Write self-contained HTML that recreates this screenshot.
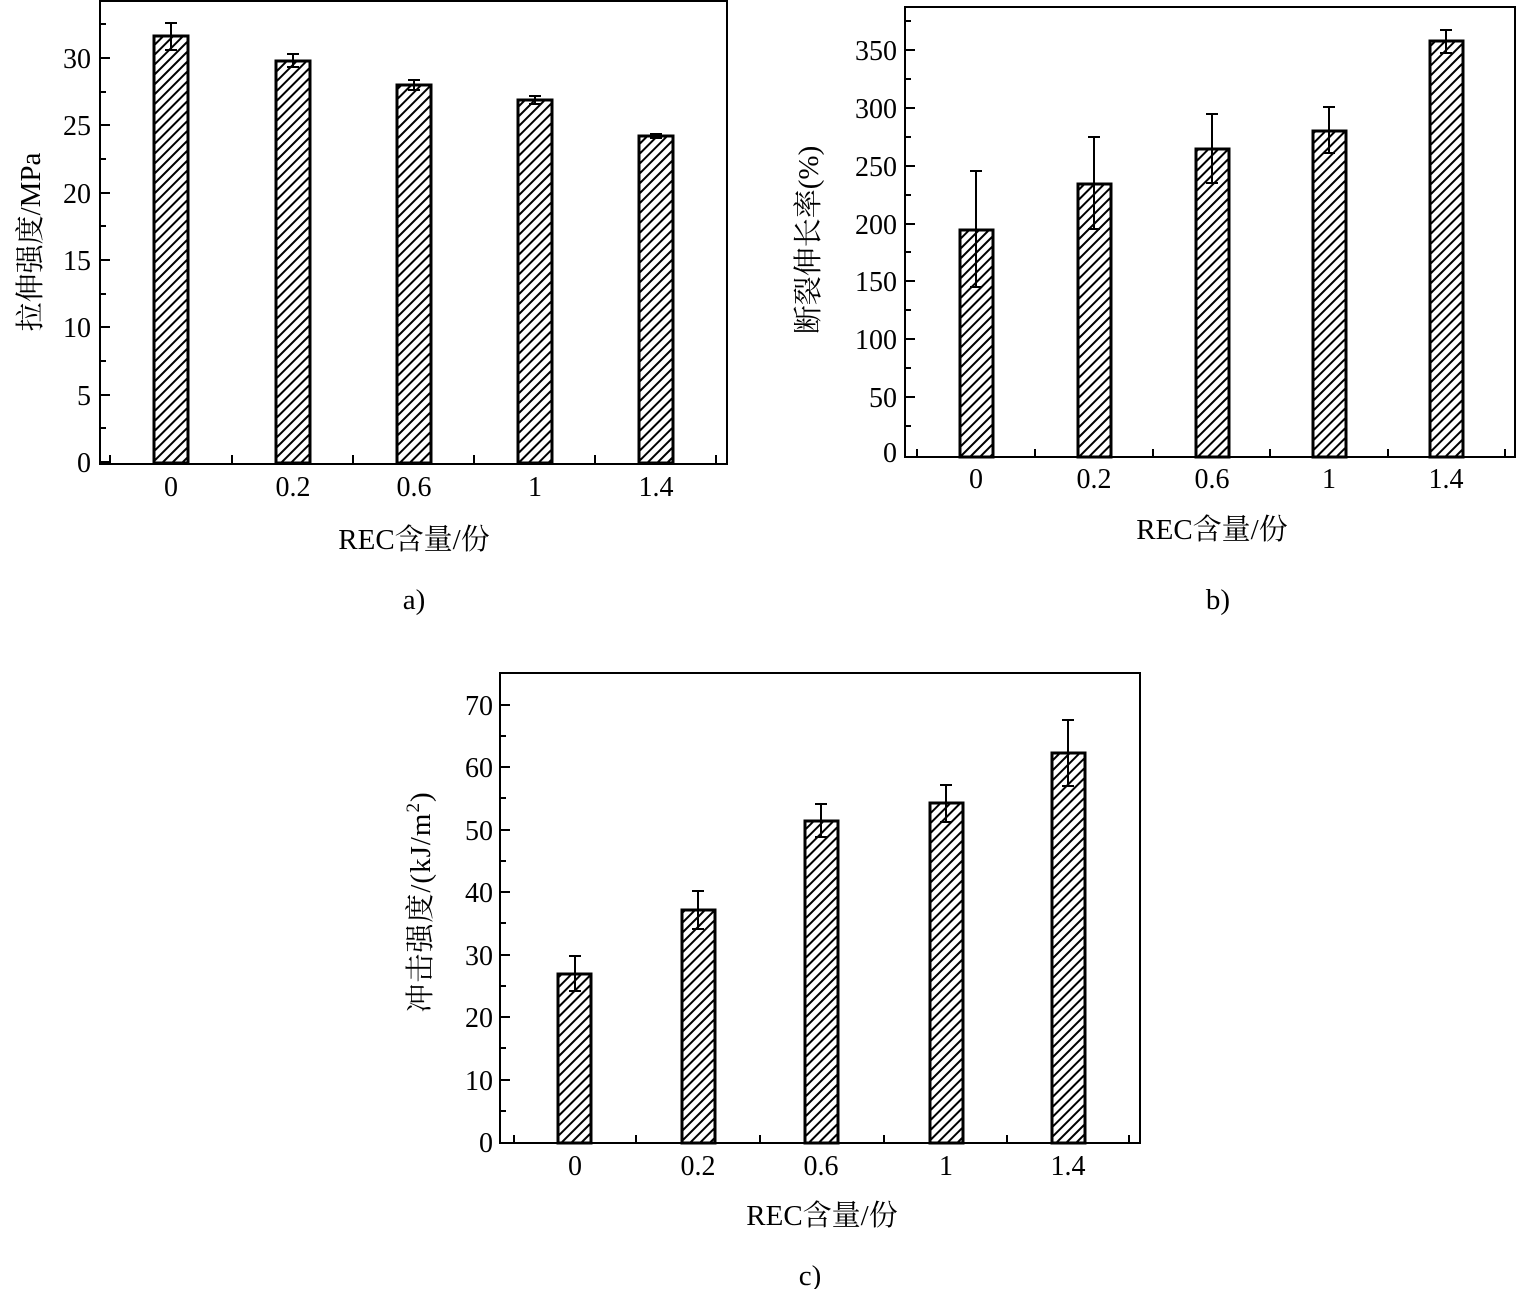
<!DOCTYPE html>
<html><head><meta charset="utf-8"><style>
html,body{margin:0;padding:0;background:#fff;}
svg{display:block;}
text{font-family:"Liberation Serif","Noto Serif CJK SC",serif;fill:#000;}
.t{font-size:28px;}
.l{font-size:29px;}
</style></head><body>
<svg width="1517" height="1289" viewBox="0 0 1517 1289" xmlns="http://www.w3.org/2000/svg">
<defs>
<pattern id="h" patternUnits="userSpaceOnUse" width="7" height="7" patternTransform="rotate(45)">
<rect width="7" height="7" fill="#fff"/><rect x="0" y="0" width="2" height="7" fill="#000"/>
</pattern>
</defs>
<g stroke="#000" fill="none">
<rect x="100" y="1" width="627" height="463" stroke-width="2"/>
<path stroke-width="2" d="M100 462h10M100 395h10M100 327h10M100 260h10M100 193h10M100 125h10M100 58h10
M100 428h6M100 361h6M100 294h6M100 226h6M100 159h6M100 92h6M100 24h6
M232 463v-8M353 463v-8M474 463v-8M595 463v-8M716 463v-8M110 463v-8"/>
<g fill="url(#h)" stroke-width="3">
<rect x="154" y="36" width="34" height="427"/>
<rect x="276" y="61" width="34" height="402"/>
<rect x="397" y="85" width="34" height="378"/>
<rect x="518" y="100" width="34" height="363"/>
<rect x="639" y="136" width="34" height="327"/>
</g>
<path stroke-width="2" d="M171 23v27M165 23h12M165 50h12 M293 54v13M287 54h12M287 67h12 M414 80v10M408 80h12M408 90h12 M535 96v8M529 96h12M529 104h12 M656 134v4M650 134h12M650 138h12"/>
<rect x="905" y="7" width="610" height="450" stroke-width="2"/>
<path stroke-width="2" d="M905 397h10M905 339h10M905 281h10M905 224h10M905 166h10M905 108h10M905 50h10
M905 426h6M905 368h6M905 310h6M905 252h6M905 195h6M905 137h6M905 79h6M905 21h6
M917 457v-8M1035 457v-8M1153 457v-8M1270 457v-8M1388 457v-8M1505 457v-8"/>
<g fill="url(#h)" stroke-width="3">
<rect x="960" y="230" width="33" height="227"/>
<rect x="1078" y="184" width="33" height="273"/>
<rect x="1196" y="149" width="33" height="308"/>
<rect x="1313" y="131" width="33" height="326"/>
<rect x="1430" y="41" width="33" height="416"/>
</g>
<path stroke-width="2" d="M976 171v116M970 171h12M970 287h12 M1094 137v92M1088 137h12M1088 229h12 M1212 114v69M1206 114h12M1206 183h12 M1329 107v46M1323 107h12M1323 153h12 M1446 30v23M1440 30h12M1440 53h12"/>
<rect x="500" y="673" width="640" height="470" stroke-width="2"/>
<path stroke-width="2" d="M500 1080h10M500 1017h10M500 955h10M500 892h10M500 830h10M500 767h10M500 705h10
M500 1111h6M500 1048h6M500 986h6M500 923h6M500 861h6M500 798h6M500 736h6
M514 1143v-8M636 1143v-8M760 1143v-8M884 1143v-8M1007 1143v-8M1129 1143v-8"/>
<g fill="url(#h)" stroke-width="3">
<rect x="558" y="974" width="33" height="169"/>
<rect x="682" y="910" width="33" height="233"/>
<rect x="805" y="821" width="33" height="322"/>
<rect x="930" y="803" width="33" height="340"/>
<rect x="1052" y="753" width="33" height="390"/>
</g>
<path stroke-width="2" d="M575 956v35M569 956h12M569 991h12 M698 891v38M692 891h12M692 929h12 M821 804v33M815 804h12M815 837h12 M946 785v37M940 785h12M940 822h12 M1068 720v66M1062 720h12M1062 786h12"/>
</g>
<g class="t" text-anchor="end">
<text x="91" y="472">0</text><text x="91" y="405">5</text><text x="91" y="337">10</text><text x="91" y="270">15</text><text x="91" y="203">20</text><text x="91" y="135">25</text><text x="91" y="68">30</text>
</g>
<g class="t" text-anchor="middle">
<text x="171" y="496">0</text><text x="293" y="496">0.2</text><text x="414" y="496">0.6</text><text x="535" y="496">1</text><text x="656" y="496">1.4</text>
</g>
<text class="l" x="414" y="549" text-anchor="middle">REC含量/份</text>
<text class="l" x="414" y="609" text-anchor="middle">a)</text>
<text class="l" transform="translate(40,242) rotate(-90)" text-anchor="middle">拉伸强度/MPa</text>
<g class="t" text-anchor="end">
<text x="897" y="462">0</text><text x="897" y="407">50</text><text x="897" y="349">100</text><text x="897" y="291">150</text><text x="897" y="234">200</text><text x="897" y="176">250</text><text x="897" y="118">300</text><text x="897" y="60">350</text>
</g>
<g class="t" text-anchor="middle">
<text x="976" y="488">0</text><text x="1094" y="488">0.2</text><text x="1212" y="488">0.6</text><text x="1329" y="488">1</text><text x="1446" y="488">1.4</text>
</g>
<text class="l" x="1212" y="539" text-anchor="middle">REC含量/份</text>
<text class="l" x="1218" y="609" text-anchor="middle">b)</text>
<text class="l" transform="translate(818,240) rotate(-90)" text-anchor="middle">断裂伸长率(%)</text>
<g class="t" text-anchor="end">
<text x="493" y="1152">0</text><text x="493" y="1090">10</text><text x="493" y="1027">20</text><text x="493" y="965">30</text><text x="493" y="902">40</text><text x="493" y="840">50</text><text x="493" y="777">60</text><text x="493" y="715">70</text>
</g>
<g class="t" text-anchor="middle">
<text x="575" y="1175">0</text><text x="698" y="1175">0.2</text><text x="821" y="1175">0.6</text><text x="946" y="1175">1</text><text x="1068" y="1175">1.4</text>
</g>
<text class="l" x="822" y="1225" text-anchor="middle">REC含量/份</text>
<text class="l" x="810" y="1285" text-anchor="middle">c)</text>
<text class="l" transform="translate(430,902) rotate(-90)" text-anchor="middle" letter-spacing="1">冲击强度/(kJ/m<tspan font-size="19" dy="-11">2</tspan><tspan dy="11">)</tspan></text>
</svg>
</body></html>
